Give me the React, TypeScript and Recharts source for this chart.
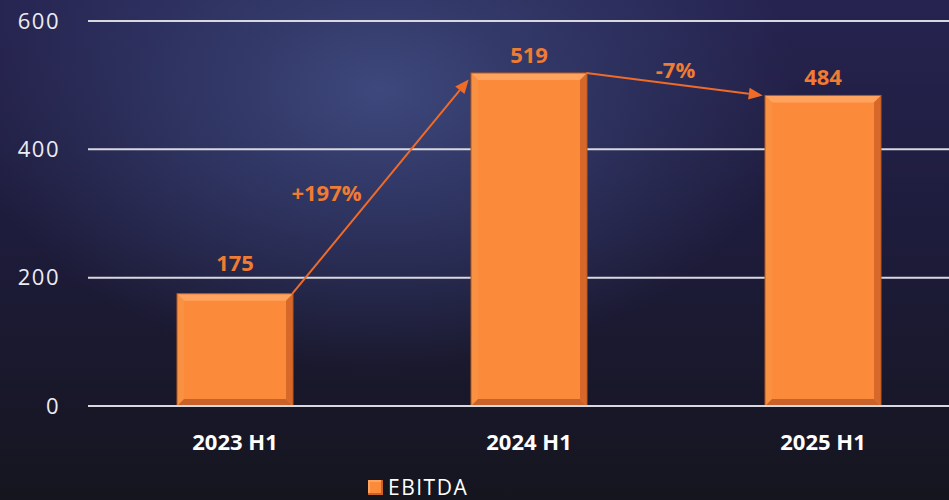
import { BarChart, Bar, XAxis, YAxis, CartesianGrid, LabelList, ReferenceLine } from 'recharts';

// EBITDA by half-year
const categories = ['2023 H1', '2024 H1', '2025 H1'];
const ebitda = [175, 519, 484];
const yTicks = [0, 200, 400, 600];
const changeLabels = ['+197%', '-7%'];
const seriesName = 'EBITDA';

const ORANGE = '#FC8A3B';
const ARROW = '#F06A28';
const LABEL = '#F07B32';

const chartData = categories.map((name, i) => ({ name, ebitda: ebitda[i] }));

// beveled bar, like the slide
const BevelBar = (props: any) => {
  const { x, y, width, height } = props;
  if (!height || height <= 0) return null;
  const b = 7;
  return (
    <g>
      <rect x={x} y={y} width={width} height={height} fill={ORANGE} />
      <polygon points={`${x},${y} ${x + width},${y} ${x + width - b},${y + b} ${x + b},${y + b}`} fill="#FFA35E" />
      <polygon points={`${x},${y} ${x + b},${y + b} ${x + b},${y + height - b} ${x},${y + height}`} fill="#F99142" />
      <polygon points={`${x + width},${y} ${x + width},${y + height} ${x + width - b},${y + height - b} ${x + width - b},${y + b}`} fill="#D8682A" />
      <polygon points={`${x},${y + height} ${x + b},${y + height - b} ${x + width - b},${y + height - b} ${x + width},${y + height}`} fill="#C9622A" />
      <rect x={x} y={y} width={width} height={height} fill="none" stroke="#B5581F" strokeWidth={1} />
    </g>
  );
};

// value label; the first one sits above the 200 gridline in the slide
const ValueLabel = (props: any) => {
  const { x, y, width, value, index } = props;
  const lift = index === 0 ? 23 : 10;
  return (
    <text
      x={x + width / 2}
      y={y - lift}
      fill={LABEL}
      fontSize={22}
      fontWeight={700}
      textAnchor="middle"
      fontFamily="'Open Sans', sans-serif"
    >
      {value}
    </text>
  );
};

// arrow between two category centres, trimmed to the bar edges
const arrowShape = (text: string, dx: number, dy: number) => (props: any) => {
  const { x1: cx1, y1, x2: cx2, y2 } = props;
  if (cx1 == null || cx2 == null) return null;
  const step = cx2 - cx1;
  const x1 = cx1 + step * 0.195;
  const x2 = cx2 - step * 0.205;
  const ang = Math.atan2(y2 - y1, x2 - x1);
  const len = 14;
  const w = 6;
  const bx = x2 - len * Math.cos(ang);
  const by = y2 - len * Math.sin(ang);
  const px = -Math.sin(ang) * w;
  const py = Math.cos(ang) * w;
  return (
    <g>
      <line x1={x1} y1={y1} x2={bx} y2={by} stroke={ARROW} strokeWidth={2} />
      <polygon points={`${x2},${y2} ${bx + px},${by + py} ${bx - px},${by - py}`} fill={ARROW} />
      <text
        x={(x1 + x2) / 2 + dx}
        y={(y1 + y2) / 2 + dy}
        fill={LABEL}
        fontSize={22}
        fontWeight={700}
        textAnchor="middle"
        fontFamily="'Open Sans', sans-serif"
      >
        {text}
      </text>
    </g>
  );
};

export default function App() {
  return (
    <div
      style={{
        position: 'absolute',
        left: 0,
        top: 0,
        width: 949,
        height: 500,
        overflow: 'hidden',
        background:
          'radial-gradient(ellipse 55% 70% at 40% 18%, rgba(62,72,124,1) 0%, rgba(52,60,108,0.85) 30%, rgba(40,44,85,0) 80%), linear-gradient(to bottom, #262350 0%, #1e1c3c 45%, #15151f 100%)',
        fontFamily: "'Open Sans', sans-serif",
      }}
    >
      <BarChart
        width={975}
        height={500}
        data={chartData}
        margin={{ top: 21, right: 5, left: 0, bottom: 34 }}
      >
        <CartesianGrid horizontal vertical={false} stroke="#d8d8e0" strokeWidth={2} />
        <XAxis
          dataKey="name"
          axisLine={{ stroke: '#d8d8e0', strokeWidth: 2 }}
          tickLine={false}
          tick={{ fill: '#ffffff', fontSize: 22, fontWeight: 700 }}
          tickMargin={22}
          height={60}
        />
        <YAxis
          domain={[0, 600]}
          ticks={yTicks}
          axisLine={false}
          tickLine={false}
          width={88}
          tickMargin={22}
          tick={{ fill: '#ececf2', fontSize: 22, letterSpacing: 1.5 }}
        />
        <Bar dataKey="ebitda" name={seriesName} barSize={116} shape={BevelBar} isAnimationActive={false}>
          <LabelList dataKey="ebitda" content={ValueLabel} />
        </Bar>
        <ReferenceLine
          ifOverflow="visible"
          segment={[{ x: categories[0], y: ebitda[0] }, { x: categories[1], y: ebitda[1] - 10 }]}
          shape={arrowShape(changeLabels[0], -54, 14)}
        />
        <ReferenceLine
          ifOverflow="visible"
          segment={[{ x: categories[1], y: ebitda[1] }, { x: categories[2], y: ebitda[2] }]}
          shape={arrowShape(changeLabels[1], 1, -6)}
        />
      </BarChart>
      <div
        style={{
          position: 'absolute',
          left: 368,
          top: 476,
          display: 'flex',
          alignItems: 'center',
          color: '#ffffff',
          fontSize: 21,
          lineHeight: '22px',
          letterSpacing: 1.5,
        }}
      >
        <span
          style={{
            display: 'inline-block',
            width: 15,
            height: 15,
            marginRight: 5,
            background: ORANGE,
            boxShadow: 'inset -2px -2px 0 #C9622A, inset 2px 2px 0 #FFA35E',
          }}
        />
        {seriesName}
      </div>
    </div>
  );
}
